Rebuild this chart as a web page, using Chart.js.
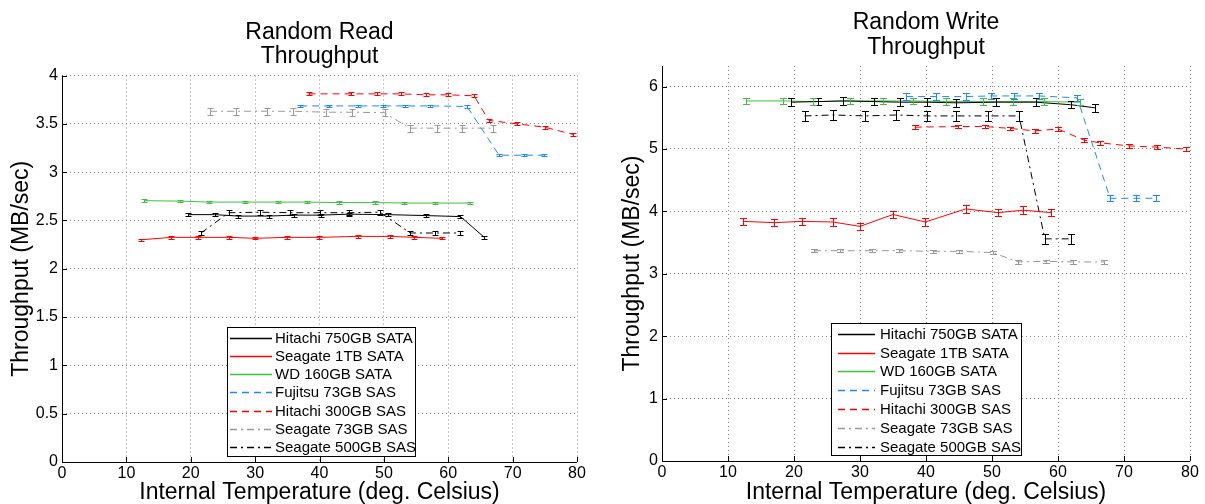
<!DOCTYPE html>
<html>
<head>
<meta charset="utf-8">
<script src="https://cdn.jsdelivr.net/npm/chart.js@4.4.1/dist/chart.umd.min.js"></script>
<style>
    html, body { margin: 0; padding: 0; background: #fff; }
    #wrap { position: relative; width: 1205px; height: 504px; overflow: hidden; }
    canvas { position: absolute; top: 0; }
    #readChart { left: 0; }
    #writeChart { left: 600px; }
</style>
</head>
<body>
<div id="wrap">
    <canvas id="readChart" width="600" height="504"></canvas>
    <canvas id="writeChart" width="605" height="504"></canvas>
</div>
<script>
// --- data (legend order) ---
const drives = ['Hitachi 750GB SATA', 'Seagate 1TB SATA', 'WD 160GB SATA', 'Fujitsu 73GB SAS',
    'Hitachi 300GB SAS', 'Seagate 73GB SAS', 'Seagate 500GB SAS'];

// internal temperature (deg. C) of each measurement
const tempHitachi750 = [19.6, 23.7, 27.4, 32.1, 36.0, 40.2, 44.6, 50.6, 56.6, 61.9, 65.6];
const tempSeagate1TB = [12.3, 17.0, 21.2, 25.9, 30.0, 35.0, 39.9, 46.0, 50.9, 54.7, 59.0];
const tempWD160 = [12.8, 18.4, 22.9, 28.5, 33.5, 38.0, 43.0, 48.6, 53.2, 57.9, 63.4];
const tempFujitsu73 = [37.0, 41.5, 46.0, 49.8, 53.3, 57.1, 62.9, 67.9, 71.8, 74.8];
const tempHitachi300 = [38.3, 44.9, 49.0, 52.7, 56.5, 60.0, 64.0, 66.3, 70.7, 75.0, 79.4];
const tempSeagate73 = [23.0, 27.0, 31.8, 35.9, 41.0, 45.0, 50.1, 54.0, 58.2, 62.2, 67.0];
const tempSeagate500 = [21.6, 25.9, 30.8, 35.4, 40.1, 44.6, 49.4, 54.1, 58.0, 61.9];

// random read throughput (MB/sec)
const readHitachi750 = [2.56, 2.56, 2.545, 2.545, 2.555, 2.555, 2.565, 2.56, 2.55, 2.54, 2.325];
const readSeagate1TB = [2.30, 2.325, 2.325, 2.325, 2.315, 2.325, 2.325, 2.335, 2.335, 2.325, 2.315];
const readWD160 = [2.705, 2.70, 2.69, 2.69, 2.69, 2.69, 2.685, 2.685, 2.68, 2.68, 2.68];
const readFujitsu73 = [3.685, 3.685, 3.685, 3.685, 3.685, 3.685, 3.68, 3.175, 3.175, 3.175];
const readHitachi300 = [3.81, 3.81, 3.81, 3.81, 3.80, 3.80, 3.79, 3.535, 3.50, 3.465, 3.39];
const readSeagate73 = [3.63, 3.63, 3.63, 3.63, 3.62, 3.62, 3.615, 3.455, 3.455, 3.455, 3.455];
const readSeagate500 = [2.37, 2.58, 2.585, 2.58, 2.58, 2.58, 2.585, 2.37, 2.37, 2.37];

// random write throughput (MB/sec)
const writeHitachi750 = [5.75, 5.76, 5.77, 5.76, 5.75, 5.75, 5.74, 5.75, 5.75, 5.71, 5.66];
const writeSeagate1TB = [3.84, 3.82, 3.84, 3.83, 3.76, 3.95, 3.83, 4.04, 3.98, 4.02, 3.98];
const writeWD160 = [5.77, 5.77, 5.76, 5.77, 5.77, 5.77, 5.76, 5.76, 5.76, 5.76, 5.75];
const writeFujitsu73 = [5.84, 5.84, 5.84, 5.85, 5.85, 5.85, 5.82, 4.21, 4.21, 4.21];
const writeHitachi300 = [5.35, 5.36, 5.36, 5.33, 5.29, 5.32, 5.14, 5.10, 5.05, 5.03, 5.00];
const writeSeagate73 = [3.37, 3.37, 3.37, 3.37, 3.36, 3.36, 3.34, 3.19, 3.20, 3.19, 3.19];
const writeSeagate500 = [5.53, 5.545, 5.53, 5.545, 5.53, 5.53, 5.53, 5.53, 3.56, 3.56];

// error bar half-height per drive
const readErr = [0.015, 0.012, 0.012, 0.012, 0.015, 0.035, 0.025];
const writeErr = [0.06, 0.06, 0.05, 0.05, 0.03, 0.025, 0.08];

const temps = [tempHitachi750, tempSeagate1TB, tempWD160, tempFujitsu73, tempHitachi300, tempSeagate73, tempSeagate500];
const readValues = [readHitachi750, readSeagate1TB, readWD160, readFujitsu73, readHitachi300, readSeagate73, readSeagate500];
const writeValues = [writeHitachi750, writeSeagate1TB, writeWD160, writeFujitsu73, writeHitachi300, writeSeagate73, writeSeagate500];

// --- styling ---
const FONT = "'Liberation Sans', Arial, Helvetica, sans-serif";
const DASH = [7, 5];
const DASHDOT = [7, 4, 2, 4];
const lineStyles = [
    { color: '#000000', dash: [] },
    { color: '#ff0000', dash: [] },
    { color: '#40c040', dash: [] },
    { color: '#1a8cff', dash: DASH },
    { color: '#ff0000', dash: DASH },
    { color: '#999999', dash: DASHDOT },
    { color: '#000000', dash: DASHDOT },
];

Chart.defaults.font.family = FONT;
Chart.defaults.color = '#000';

function buildDatasets(values, errs) {
    return drives.map((label, i) => ({
        label,
        data: temps[i].map((t, j) => ({ x: t, y: values[i][j] })),
        err: errs[i],
        borderColor: lineStyles[i].color,
        backgroundColor: lineStyles[i].color,
        borderDash: lineStyles[i].dash,
        borderWidth: 1,
        pointRadius: 0,
        showLine: true,
        tension: 0,
    }));
}

// axis lines, error bars, titles, inner ticks and the in-plot legend
const extrasPlugin = {
    id: 'extras',
    beforeDatasetsDraw(chart) {
        const ctx = chart.ctx, a = chart.chartArea;
        ctx.save();
        ctx.strokeStyle = '#000';
        ctx.lineWidth = 1;
        ctx.setLineDash([]);
        ctx.beginPath();
        ctx.moveTo(Math.round(a.left) + 0.5, a.top);
        ctx.lineTo(Math.round(a.left) + 0.5, a.bottom);
        ctx.moveTo(a.left, Math.round(a.bottom) + 0.5);
        ctx.lineTo(a.right, Math.round(a.bottom) + 0.5);
        ctx.stroke();
        ctx.restore();
    },
    afterDatasetsDraw(chart, args, opts) {
        const ctx = chart.ctx;
        const { x, y } = chart.scales;
        const c = opts.cap / 2;
        chart.data.datasets.forEach((ds, i) => {
            ctx.save();
            ctx.strokeStyle = lineStyles[i].color;
            ctx.lineWidth = 1;
            ctx.setLineDash([]);
            ctx.beginPath();
            ds.data.forEach(p => {
                const px = Math.round(x.getPixelForValue(p.x)) + 0.5;
                const y1 = Math.round(y.getPixelForValue(p.y + ds.err)) + 0.5;
                const y2 = Math.round(y.getPixelForValue(p.y - ds.err)) + 0.5;
                ctx.moveTo(px, y1); ctx.lineTo(px, y2);
                ctx.moveTo(px - c, y1); ctx.lineTo(px + c, y1);
                ctx.moveTo(px - c, y2); ctx.lineTo(px + c, y2);
            });
            ctx.stroke();
            ctx.restore();
        });
    },
    afterDraw(chart, args, opts) {
        const ctx = chart.ctx;
        const area = chart.chartArea;
        const { x, y } = chart.scales;
        ctx.save();

        // two-line title
        ctx.fillStyle = '#000';
        ctx.font = `23px ${FONT}`;
        ctx.textAlign = 'center';
        ctx.textBaseline = 'middle';
        const cx = (area.left + area.right) / 2;
        ctx.fillText(opts.title[0], cx, area.top - 43);
        ctx.fillText(opts.title[1], cx, area.top - 18.5);

        // inner ticks
        ctx.strokeStyle = '#000';
        ctx.lineWidth = 1;
        ctx.beginPath();
        x.ticks.forEach(t => {
            const px = Math.round(x.getPixelForValue(t.value)) + 0.5;
            ctx.moveTo(px, area.bottom); ctx.lineTo(px, area.bottom - 5);
        });
        y.ticks.forEach(t => {
            const py = Math.round(y.getPixelForValue(t.value)) + 0.5;
            ctx.moveTo(area.left, py); ctx.lineTo(area.left + 5, py);
        });
        ctx.stroke();

        // legend
        const lg = opts.legend;
        ctx.fillStyle = '#fff';
        ctx.fillRect(lg.x, lg.y, lg.w, lg.h);
        ctx.strokeStyle = '#000';
        ctx.strokeRect(lg.x + 0.5, lg.y + 0.5, lg.w, lg.h);
        ctx.font = `15px ${FONT}`;
        ctx.textAlign = 'left';
        ctx.textBaseline = 'middle';
        chart.data.datasets.forEach((ds, i) => {
            const ry = Math.round(lg.y + lg.firstRow + i * lg.rowH) + 0.5;
            ctx.strokeStyle = lineStyles[i].color;
            ctx.lineWidth = 1.3;
            ctx.setLineDash(lineStyles[i].dash);
            ctx.beginPath();
            ctx.moveTo(lg.x + lg.sample[0], ry);
            ctx.lineTo(lg.x + lg.sample[1], ry);
            ctx.stroke();
            ctx.setLineDash([]);
            ctx.fillStyle = '#000';
            ctx.fillText(ds.label, lg.x + lg.textX, ry);
        });
        ctx.restore();
    }
};

const tickText = v => String(Math.round(v * 100) / 100);

function makeChart(id, values, errs, yMax, yStep, pad, edges, yTitlePad, extras) {
    return new Chart(document.getElementById(id), {
        type: 'scatter',
        data: { datasets: buildDatasets(values, errs) },
        options: {
            responsive: false,
            animation: false,
            layout: { padding: pad },
            plugins: {
                legend: { display: false },
                tooltip: { enabled: false },
                extras,
            },
            scales: {
                x: {
                    type: 'linear',
                    min: 0, max: 80,
                    afterFit: s => { s.height = 504 - edges.bottom; },
                    ticks: { stepSize: 10, font: { size: 16 }, color: '#000', padding: 2, maxRotation: 0, callback: tickText },
                    grid: { color: '#8a8a8a', drawTicks: false },
                    border: { display: false, dash: [1, 3] },
                    title: {
                        display: true, text: 'Internal Temperature (deg. Celsius)',
                        font: { size: 23, lineHeight: 1 }, color: '#000', padding: { top: 0, bottom: 0 }
                    }
                },
                y: {
                    type: 'linear',
                    min: 0, max: yMax,
                    afterFit: s => { s.width = edges.left; },
                    ticks: { stepSize: yStep, includeBounds: false, font: { size: 16 }, color: '#000', padding: 4, callback: tickText },
                    grid: { color: '#8a8a8a', drawTicks: false },
                    border: { display: false, dash: [1, 3] },
                    title: {
                        display: true, text: 'Throughput (MB/sec)',
                        font: { size: 23, lineHeight: 1 }, color: '#000', padding: { top: yTitlePad, bottom: 0 }
                    }
                }
            }
        },
        plugins: [extrasPlugin]
    });
}

const readChart = makeChart('readChart', readValues, readErr, 4, 0.5,
    { left: 0, top: 75.5, right: 23, bottom: 0 }, { left: 62, bottom: 462 }, 10,
    {
        title: ['Random Read', 'Throughput'], cap: 6,
        legend: { x: 227, y: 327, w: 188, h: 129, firstRow: 11.3, rowH: 18.05, sample: [3, 45], textX: 48 }
    });

const writeChart = makeChart('writeChart', writeValues, writeErr, 6.33, 1,
    { left: 0, top: 66, right: 15, bottom: 0 }, { left: 62, bottom: 461 }, 21,
    {
        title: ['Random Write', 'Throughput'], cap: 7,
        legend: { x: 231, y: 323, w: 190, h: 132, firstRow: 10.7, rowH: 18.8, sample: [7, 44], textX: 49 }
    });
</script>
</body>
</html>
